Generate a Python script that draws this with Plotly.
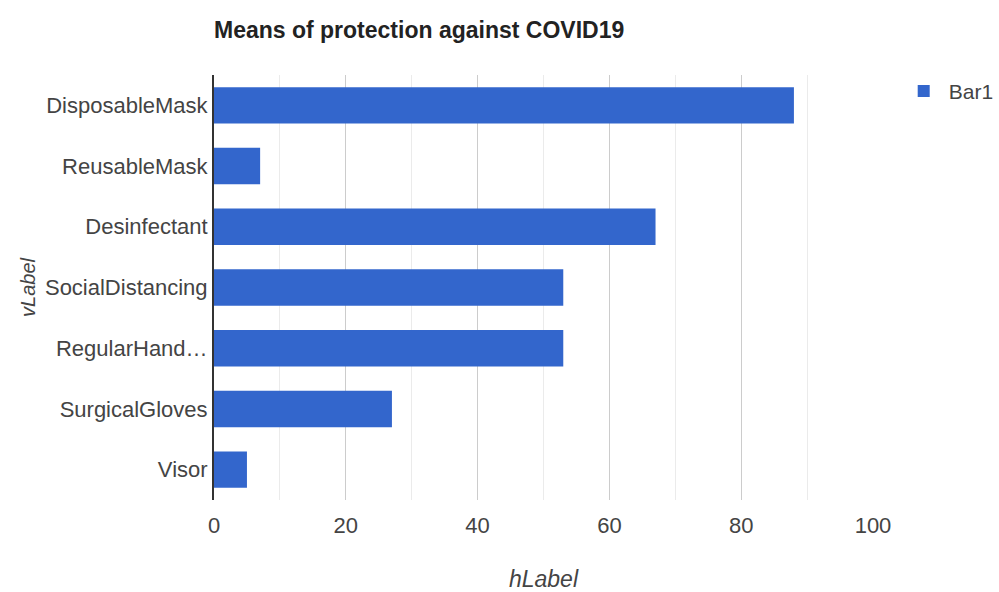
import plotly.graph_objects as go

# Survey results: means of protection against COVID19
categories = ["DisposableMask", "ReusableMask", "Desinfectant", "SocialDistancing",
              "RegularHandWashing", "SurgicalGloves", "Visor"]
tick_labels = ["DisposableMask", "ReusableMask", "Desinfectant", "SocialDistancing",
               "RegularHand…", "SurgicalGloves", "Visor"]
values = [88, 7, 67, 53, 53, 27, 5]
x_ticks = [0, 20, 40, 60, 80, 100]

FONT = "Liberation Sans, Arial, sans-serif"

fig = go.Figure()
fig.add_trace(go.Bar(
    x=values,
    y=categories,
    orientation="h",
    name="Bar1",
    marker=dict(color="#3366cc", line=dict(width=0)),
))

fig.update_layout(
    width=999,
    height=592,
    paper_bgcolor="white",
    plot_bgcolor="white",
    margin=dict(l=214, r=126, t=75, b=92, autoexpand=False),
    bargap=0.4,
    font=dict(family=FONT, size=22, color="#444444"),
    title=dict(
        text="<b>Means of protection against COVID19</b>",
        x=214 / 999, xanchor="left",
        y=1 - 30 / 592, yanchor="middle",
        font=dict(family=FONT, size=23, color="#222222"),
    ),
    showlegend=True,
    legend=dict(
        x=1.039, xanchor="left",
        y=1.01, yanchor="top",
        font=dict(family=FONT, size=21, color="#444444"),
        bgcolor="rgba(0,0,0,0)",
        itemwidth=40,
    ),
    xaxis=dict(
        range=[0, 100],
        tickvals=x_ticks,
        ticktext=[str(v) for v in x_ticks],
        showgrid=True,
        gridcolor="#cccccc",
        gridwidth=1,
        minor=dict(dtick=10, showgrid=True, gridcolor="#ebebeb", gridwidth=1),
        zeroline=False,
        showline=False,
        ticks="",
        ticklabelstandoff=10,
        tickfont=dict(family=FONT, size=22, color="#444444"),
        title=dict(
            text="<i>hLabel</i>",
            font=dict(family=FONT, size=23, color="#444444"),
            standoff=36,
        ),
    ),
    yaxis=dict(
        categoryorder="array",
        categoryarray=categories[::-1],
        tickvals=categories,
        ticktext=tick_labels,
        showgrid=False,
        zeroline=False,
        showline=True,
        linecolor="#333333",
        linewidth=2,
        ticks="",
        ticklabelstandoff=0,
        tickfont=dict(family=FONT, size=22, color="#444444"),
        title=dict(
            text="<i>vLabel</i>",
            font=dict(family=FONT, size=20, color="#444444"),
            standoff=4,
        ),
    ),
)

fig.write_html("out.html")
